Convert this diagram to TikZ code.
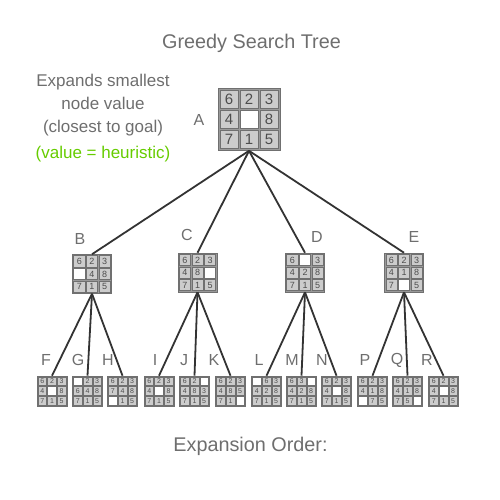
\documentclass[tikz,border=0pt]{standalone}
\usepackage{fontspec}
\setmainfont{Liberation Sans}
\usetikzlibrary{positioning}
\definecolor{txtgray}{HTML}{6E6E6E}
\definecolor{heurgreen}{HTML}{66CC00}
\definecolor{tilefill}{HTML}{CCCCCC}
\definecolor{tileline}{HTML}{707070}
\definecolor{tiletext}{HTML}{4D4D4D}
\definecolor{boardfill}{HTML}{999999}
\definecolor{edgecol}{HTML}{333333}
\tikzset{
  board/.style={draw=tileline, fill=boardfill, inner sep=0pt, line width=0.6pt},
  tile/.style={draw=tileline, fill=tilefill, inner sep=0pt, line width=0.6pt, text=tiletext},
  edge/.style={draw=edgecol, line width=1.8pt},
  lbl/.style={text=txtgray, font=\fontsize{16}{18}\selectfont},
  note/.style={text=txtgray, align=center, font=\fontsize{17}{23}\selectfont}
}
% #1 name, #2 centre, #3 tile size, #4 font size, #5 tiles (0 = blank)
\newcommand{\puzzle}[5]{%
  \node[board, minimum size={3*#3+4*#3/9}] (#1) at (#2) {};
  \foreach \t [count=\i from 0] in {#5} {
    \pgfmathsetmacro{\dx}{(mod(\i,3)-1)*#3*10/9}
    \pgfmathsetmacro{\dy}{(int(\i/3)-1)*#3*10/9}
    \ifnum\t=0\relax
      \node[tile, fill=white, minimum size=#3] at ([shift={(\dx,\dy)}]#1.center) {};
    \else
      \node[tile, minimum size=#3, font=\fontsize{#4}{#4}\selectfont] at ([shift={(\dx,\dy)}]#1.center) {\t};
    \fi
  }%
}
\begin{document}
\begin{tikzpicture}[x=1pt, y=-1pt]
\useasboundingbox (0,0) rectangle (500,500);
% headings
\node[text=txtgray, font=\fontsize{19.8}{22}\selectfont] (title) at (251.5,43) {Greedy Search Tree};
\node[text=txtgray, font=\fontsize{19.8}{22}\selectfont] (order) at (250.5,446) {Expansion Order:};
\node[note] (expl) at (103,105) {Expands smallest\\node value\\(closest to goal)};
\node[note, text=heurgreen] (heur) at (103,154) {(value = heuristic)};
% root
\puzzle{A}{249,119.5}{18}{15}{6,2,3,4,0,8,7,1,5}
% depth 1
\puzzle{B}{92,274}{11.3}{9}{6,2,3,0,4,8,7,1,5}
\puzzle{C}{197.5,272.5}{11.3}{9}{6,2,3,4,8,0,7,1,5}
\puzzle{D}{305,272.5}{11.3}{9}{6,0,3,4,2,8,7,1,5}
\puzzle{E}{404,272.5}{11.3}{9}{6,2,3,4,1,8,7,0,5}
% depth 2
\puzzle{F}{52,391}{8.7}{7}{6,2,3,4,0,8,7,1,5}
\puzzle{G}{87.5,391}{8.7}{7}{0,2,3,6,4,8,7,1,5}
\puzzle{H}{122.5,391}{8.7}{7}{6,2,3,7,4,8,0,1,5}
\puzzle{I}{159,391}{8.7}{7}{6,2,3,4,0,8,7,1,5}
\puzzle{J}{194.5,391}{8.7}{7}{6,2,0,4,8,3,7,1,5}
\puzzle{K}{230.5,391}{8.7}{7}{6,2,3,4,8,5,7,1,0}
\puzzle{L}{266.5,391}{8.7}{7}{0,6,3,4,2,8,7,1,5}
\puzzle{M}{301.5,391}{8.7}{7}{6,3,0,4,2,8,7,1,5}
\puzzle{N}{336.5,391}{8.7}{7}{6,2,3,4,0,8,7,1,5}
\puzzle{P}{372.5,391}{8.7}{7}{6,2,3,4,1,8,0,7,5}
\puzzle{Q}{407.5,391}{8.7}{7}{6,2,3,4,1,8,7,5,0}
\puzzle{R}{443.5,391}{8.7}{7}{6,2,3,4,0,8,7,1,5}
% state labels
\node[lbl] (labA) at (199,120) {A};
\node[lbl] (labB) at (80,239) {B};
\node[lbl] (labC) at (187,235) {C};
\node[lbl] (labD) at (317,237) {D};
\node[lbl] (labE) at (414,237) {E};
\foreach \n/\x in {F/46,G/78,H/108,I/155,J/184,K/214,L/259,M/292,N/322,P/365,Q/397,R/427}
  \node[lbl] (lab\n) at (\x,360) {\n};
% tree edges
\foreach \p/\c in {A/B,A/C,A/D,A/E,B/F,B/G,B/H,C/I,C/J,C/K,D/L,D/M,D/N,E/P,E/Q,E/R}
  \draw[edge] (\p.south) -- (\c.north);
\end{tikzpicture}
\end{document}
